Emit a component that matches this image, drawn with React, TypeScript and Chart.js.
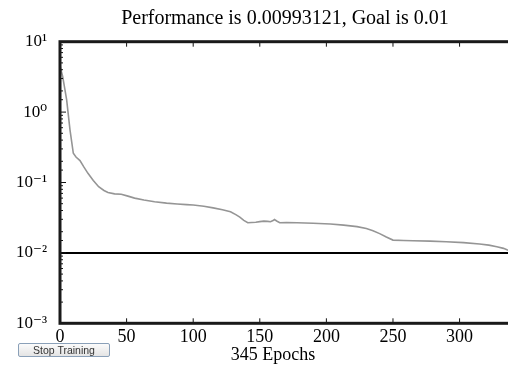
import React, { useEffect, useRef } from "react";
import { Chart, registerables } from "chart.js";

Chart.register(...registerables);

// ---- data ----
const epochs = [
  0, 1, 2, 3, 5, 7.5, 10, 12, 15, 18, 21, 25, 29, 33, 36, 41, 46, 51, 56, 63,
  71, 80, 88, 95, 100, 108, 115, 122, 128, 132, 135, 138, 141, 144, 147, 150,
  153, 156, 158, 160, 161, 163, 165, 170, 178, 190, 203, 213, 223, 230, 235,
  240, 245, 250, 258, 265, 278, 290, 303, 315, 322, 328, 333, 336, 340, 345,
];
const performance = [
  4.6, 3.8, 3.2, 2.5, 1.49, 0.56, 0.26, 0.23, 0.205, 0.165, 0.135, 0.107,
  0.087, 0.077, 0.072, 0.069, 0.068, 0.064, 0.06, 0.0565, 0.0533, 0.051,
  0.0495, 0.0485, 0.0479, 0.046, 0.0436, 0.041, 0.0385, 0.035, 0.0323, 0.029,
  0.0268, 0.027, 0.0272, 0.0278, 0.0283, 0.028, 0.0277, 0.0288, 0.0298, 0.0282,
  0.0268, 0.027, 0.0268, 0.0264, 0.0257, 0.0248, 0.0236, 0.0222, 0.0207,
  0.0188, 0.0168, 0.0152, 0.015, 0.0149, 0.0147, 0.0144, 0.014, 0.0134,
  0.0129, 0.0122, 0.0116, 0.011, 0.0105, 0.00993,
];
const goalValue = 0.01;
const totalEpochs = 345;
const yDecades = [-3, -2, -1, 0, 1];
const yTickLabels = ["10⁻³", "10⁻²", "10⁻¹", "10⁰", "10¹"];
const titleText = "Performance is 0.00993121, Goal is 0.01";
const xLabelText = "345 Epochs";
const buttonText = "Stop Training";

const SERIF = "'Liberation Serif', 'Times New Roman', 'DejaVu Serif', serif";

const framePlugin = {
  id: "matlabFrame",
  afterDraw(chart: any) {
    const { ctx, chartArea, scales } = chart;
    const { left, right, top, bottom } = chartArea;
    const x = scales.x;
    const y = scales.y;
    ctx.save();
    ctx.strokeStyle = "#111";
    ctx.lineWidth = 1;
    y.ticks.forEach((t: any) => {
      const py = y.getPixelForValue(t.value);
      const lg = Math.log10(t.value);
      const major = Math.abs(lg - Math.round(lg)) < 1e-6;
      const len = major ? 6 : 3;
      ctx.beginPath();
      ctx.moveTo(left, py);
      ctx.lineTo(left + len, py);
      ctx.stroke();
    });
    x.ticks.forEach((t: any) => {
      const px = x.getPixelForValue(t.value);
      ctx.beginPath();
      ctx.moveTo(px, top);
      ctx.lineTo(px, top + 5);
      ctx.moveTo(px, bottom);
      ctx.lineTo(px, bottom - 5);
      ctx.stroke();
    });
    ctx.lineWidth = 3;
    ctx.strokeStyle = "#1a1a1a";
    ctx.strokeRect(left, top, right - left, bottom - top);

    ctx.fillStyle = "#000";
    ctx.textAlign = "center";
    ctx.textBaseline = "middle";
    ctx.font = `20px ${SERIF}`;
    ctx.fillText(titleText, 285, 19);
    ctx.font = `18px ${SERIF}`;
    ctx.fillText(xLabelText, 273, 355);
    ctx.restore();
  },
};

export default function App() {
  const canvasRef = useRef<HTMLCanvasElement | null>(null);

  useEffect(() => {
    const canvas = canvasRef.current;
    if (!canvas) return;
    const perfData = epochs.map((e, i) => ({ x: e, y: performance[i] }));
    const goalData = [
      { x: 0, y: goalValue },
      { x: totalEpochs, y: goalValue },
    ];
    const chart = new Chart(canvas, {
      type: "line",
      data: {
        datasets: [
          {
            label: "Goal",
            data: goalData,
            borderColor: "#000",
            borderWidth: 2,
            pointRadius: 0,
            tension: 0,
          },
          {
            label: "Performance",
            data: perfData,
            borderColor: "#959595",
            borderWidth: 1.6,
            pointRadius: 0,
            tension: 0,
          },
        ],
      },
      options: {
        animation: false,
        responsive: false,
        devicePixelRatio: 1,
        layout: { padding: { top: 41.7, left: 0, right: 50.5, bottom: 0 } },
        plugins: {
          legend: { display: false },
          tooltip: { enabled: false },
          title: { display: false },
        },
        scales: {
          x: {
            type: "linear",
            min: 0,
            max: totalEpochs,
            grid: { display: false, drawTicks: false },
            border: { display: false },
            ticks: {
              stepSize: 50,
              includeBounds: false,
              autoSkip: false,
              maxRotation: 0,
              padding: 3,
              color: "#000",
              font: { family: SERIF, size: 18 },
            },
            afterFit(scale: any) {
              scale.height = 42.7;
            },
          },
          y: {
            type: "logarithmic",
            min: 0.001,
            max: 10,
            grid: { display: false, drawTicks: false },
            border: { display: false },
            ticks: {
              autoSkip: false,
              padding: 13,
              color: "#000",
              font: { family: SERIF, size: 17 },
              callback: (value: any) => {
                const lg = Math.log10(Number(value));
                const r = Math.round(lg);
                if (Math.abs(lg - r) > 1e-6) return "";
                const idx = yDecades.indexOf(r);
                return idx >= 0 ? yTickLabels[idx] : "";
              },
            },
            afterFit(scale: any) {
              scale.width = 60;
            },
          },
        },
      },
      plugins: [framePlugin],
    } as any);
    return () => chart.destroy();
  }, []);

  return (
    <div
      style={{
        position: "fixed",
        left: 0,
        top: 0,
        width: 508,
        height: 366,
        overflow: "hidden",
        background: "#fff",
      }}
    >
      <canvas
        ref={canvasRef}
        width={570}
        height={366}
        style={{ display: "block", width: 570, height: 366 }}
      />
      <div
        style={{
          position: "absolute",
          left: 18,
          top: 343,
          width: 90,
          height: 12,
          border: "1px solid #8aa0b8",
          borderRadius: 2,
          background: "linear-gradient(#fbfbfb, #e4e4e4)",
          fontFamily: "'Liberation Sans', Arial, sans-serif",
          fontSize: 10.5,
          lineHeight: "12px",
          color: "#333",
          textAlign: "center",
          whiteSpace: "nowrap",
        }}
      >
        {buttonText}
      </div>
    </div>
  );
}
